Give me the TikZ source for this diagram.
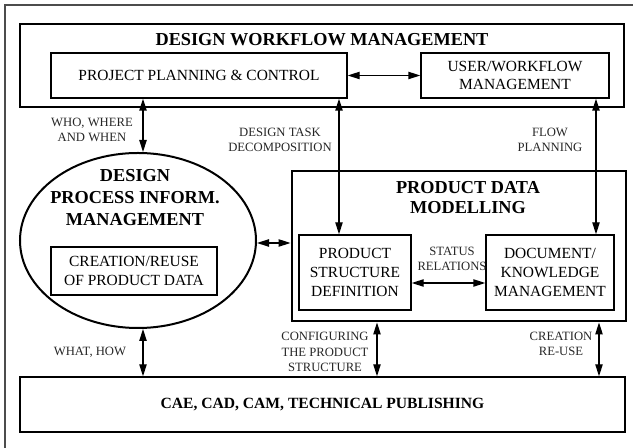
\documentclass[tikz,border=0pt]{standalone}
\usepackage{fontspec}
\setmainfont{Liberation Serif}
\usetikzlibrary{arrows.meta,shapes.geometric}
\begin{document}
\begin{tikzpicture}[x=0.75pt,y=-0.75pt,
  thickbox/.style={draw, line width=2.2pt, inner sep=0pt},
  box/.style={draw, line width=1.1pt, inner sep=0pt, align=center, font=\fontsize{11.6}{14}\selectfont},
  ttl/.style={align=center, font=\fontsize{13.7}{16.5}\selectfont\bfseries, inner sep=0pt},
  lbl/.style={align=center, font=\fontsize{9.5}{11.5}\selectfont, inner sep=0pt, text=black!85},
  dbl/.style={{Triangle[length=9pt,width=5.5pt]}-{Triangle[length=9pt,width=5.5pt]}, line width=1.1pt},
]
\useasboundingbox (0,0) rectangle (633,448);
\clip (0,0) rectangle (633,448);
\draw[line width=0.8pt, black!70] (5,5) rectangle (660,470);

% Design workflow management
\node[thickbox, minimum width=453pt, minimum height=62.25pt] (dwm) at (322,65.5) {};
\node[ttl] (dwmt) at (322,40) {DESIGN WORKFLOW MANAGEMENT};
\node[box, minimum width=222pt, minimum height=33.75pt] (ppc) at (199,75.5) {PROJECT PLANNING \& CONTROL};
\node[box, minimum width=141pt, minimum height=33.75pt, font=\fontsize{11.6}{13.5}\selectfont] (uwm) at (515,75.5) {USER/WORKFLOW\\MANAGEMENT};

% Design process information management
\node[ellipse, draw, line width=1.5pt, minimum width=177pt, minimum height=131.25pt, inner sep=0pt] (ell) at (138,240.5) {};
\node[ttl] (ellt) at (135,198) {DESIGN\\PROCESS INFORM.\\MANAGEMENT};
\node[box, minimum width=124.5pt, minimum height=36pt] (crpd) at (134,271) {CREATION/REUSE\\OF PRODUCT DATA};

% Product data modelling
\node[thickbox, minimum width=250.5pt, minimum height=112.5pt] (pdm) at (459,246) {};
\node[ttl, font=\fontsize{13.7}{15}\selectfont\bfseries] (pdmt) at (468,198) {PRODUCT DATA\\MODELLING};
\node[box, minimum width=84pt, minimum height=56.25pt] (psd) at (355,272.5) {PRODUCT\\STRUCTURE\\DEFINITION};
\node[box, minimum width=96pt, minimum height=56.25pt] (dkm) at (550,272.5) {DOCUMENT/\\KNOWLEDGE\\MANAGEMENT};

% Bottom
\node[box, minimum width=453.75pt, minimum height=41.25pt, font=\fontsize{11.7}{14}\selectfont\bfseries] (cae) at (322.5,404.5) {CAE, CAD, CAM, TECHNICAL PUBLISHING};

% labels
\node[lbl] (l1) at (92,130) {WHO, WHERE\\AND WHEN};
\node[lbl] (l2) at (280,140) {DESIGN TASK\\DECOMPOSITION};
\node[lbl] (l3) at (550,140) {FLOW\\PLANNING};
\node[lbl] (l4) at (452,259) {STATUS\\RELATIONS};
\node[lbl] (l5) at (90,352) {WHAT, HOW};
\node[lbl] (l6) at (325,352) {CONFIGURING\\THE PRODUCT\\STRUCTURE};
\node[lbl] (l7) at (561,344) {CREATION\\RE-USE};

% connector x positions
\coordinate (xa) at (143,0);
\coordinate (xb) at (339,0);
\coordinate (xc) at (596,0);
\coordinate (xd) at (377,0);
\coordinate (xe) at (599,0);
\coordinate (ya) at (0,243);
\coordinate (yb) at (0,283);

\draw[dbl] (ppc.south -| xa) -- (ell.north -| xa);
\draw[dbl] (ppc.east) -- (uwm.west);
\draw[dbl] (ppc.south -| xb) -- (psd.north -| xb);
\draw[dbl] (uwm.south -| xc) -- (dkm.north -| xc);
\draw[dbl] (ell.east |- ya) -- (pdm.west |- ya);
\draw[dbl] (psd.east |- yb) -- (dkm.west |- yb);
\draw[dbl] (ell.south -| xa) -- (cae.north -| xa);
\draw[dbl] (pdm.south -| xd) -- (cae.north -| xd);
\draw[dbl] (pdm.south -| xe) -- (cae.north -| xe);
\end{tikzpicture}
\end{document}
